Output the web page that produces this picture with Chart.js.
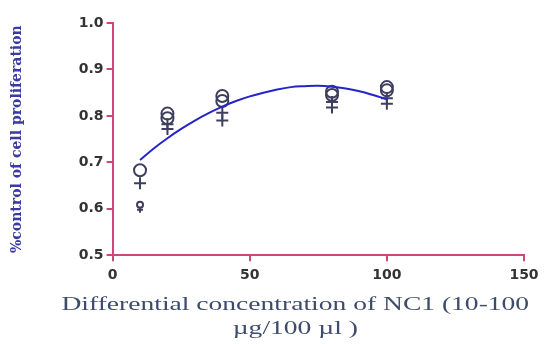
<!DOCTYPE html>
<html>
<head>
<meta charset="utf-8">
<script src="https://cdn.jsdelivr.net/npm/chart.js@4"></script>
<style>
  body { margin: 0; background: #fff; }
  canvas { display: block; }
</style>
</head>
<body>
<canvas id="grafico" width="554" height="344"></canvas>
<script>
// concentracoes (x) e leituras
const concentracoes = [10, 20, 40, 80, 100];
const circulosA = [0.683, 0.805, 0.843, 0.852, 0.862];
const circulosB = [0.609, 0.795, 0.832, 0.845, 0.855];
const cruzesA = [0.655, 0.772, 0.807, 0.830, 0.838];
const cruzesB = [0.598, 0.782, 0.790, 0.818, 0.826];

// curva ajustada
const curvaX = [10, 15, 20, 25, 30, 35, 40, 45, 50, 55, 60, 65, 70, 75, 80, 85, 90, 95, 100];
const curvaY = [0.705, 0.73, 0.752, 0.772, 0.79, 0.806, 0.82, 0.832, 0.842, 0.85, 0.857, 0.862, 0.864, 0.865, 0.863, 0.859, 0.853, 0.845, 0.836];

const ticksX = [0, 50, 100, 150];
const ticksY = [0.5, 0.6, 0.7, 0.8, 0.9, 1.0];

const corEixo = "#d0457a";
const corMarca = "#3e3e5e";

function pontos(xs, ys) {
  return xs.map((x, i) => ({ x: x, y: ys[i] }));
}

// o par de baixo em x=10 e desenhado menor
const raioB = (grande, pequeno) => ctx => (ctx.raw && ctx.raw.y < 0.65 ? pequeno : grande);

// titulo do eixo x esticado na horizontal e um pouco a esquerda, como no original
const esticar = {
  id: "esticar",
  beforeDraw(chart) {
    const escala = chart.scales.x;
    if (escala._esticado) return;
    const original = escala.drawTitle;
    escala.drawTitle = function () {
      const ctx = this.ctx;
      const cx = (this.left + this.right) / 2;
      ctx.save();
      ctx.translate(cx - 23, 0);
      ctx.scale(1.45, 1);
      ctx.translate(-cx, 0);
      original.apply(this, arguments);
      ctx.restore();
    };
    escala._esticado = true;
  }
};

new Chart(document.getElementById("grafico").getContext("2d"), {
  type: "scatter",
  data: {
    datasets: [
      {
        data: pontos(curvaX, curvaY),
        showLine: true,
        borderColor: "#2424c8",
        borderWidth: 2,
        pointRadius: 0,
        tension: 0.4,
        fill: false
      },
      {
        data: pontos(concentracoes, circulosA),
        pointStyle: "circle",
        pointRadius: 6,
        borderColor: corMarca,
        backgroundColor: "rgba(255,255,255,0)",
        borderWidth: 2
      },
      {
        data: pontos(concentracoes, circulosB),
        pointStyle: "circle",
        pointRadius: raioB(6, 3),
        borderColor: corMarca,
        backgroundColor: "rgba(255,255,255,0)",
        borderWidth: 2
      },
      {
        data: pontos(concentracoes, cruzesA),
        pointStyle: "cross",
        pointRadius: 6,
        borderColor: corMarca,
        borderWidth: 2
      },
      {
        data: pontos(concentracoes, cruzesB),
        pointStyle: "cross",
        pointRadius: raioB(6, 3),
        borderColor: corMarca,
        borderWidth: 2
      }
    ]
  },
  options: {
    responsive: false,
    animation: false,
    layout: { padding: { top: 23, right: 30, left: 4, bottom: 3 } },
    plugins: { legend: { display: false }, tooltip: { enabled: false } },
    scales: {
      x: {
        type: "linear",
        min: 0,
        max: 150,
        afterBuildTicks: axis => { axis.ticks = ticksX.map(v => ({ value: v })); },
        border: { color: corEixo, width: 2 },
        grid: { drawOnChartArea: false, color: corEixo, lineWidth: 2, tickLength: 6 },
        ticks: { color: "#333", font: { family: "DejaVu Sans", size: 14, weight: "bold" }, padding: 6 },
        title: {
          display: true,
          text: ["Differential concentration of NC1 (10-100", "µg/100 µl )"],
          color: "#3d4b6c",
          font: { family: "Liberation Serif", size: 19, lineHeight: 1.26 },
          padding: { top: 3, bottom: 0 }
        }
      },
      y: {
        type: "linear",
        min: 0.5,
        max: 1.0,
        afterBuildTicks: axis => { axis.ticks = ticksY.map(v => ({ value: v })); },
        border: { color: corEixo, width: 2 },
        grid: { drawOnChartArea: false, color: corEixo, lineWidth: 2, tickLength: 6 },
        ticks: {
          color: "#333",
          font: { family: "DejaVu Sans", size: 14, weight: "bold" },
          padding: 3,
          callback: v => v.toFixed(1)
        },
        title: {
          display: true,
          text: "%control of cell proliferation",
          color: "#3a3aa0",
          font: { family: "DejaVu Serif", size: 14, weight: "bold" },
          padding: { top: 5, bottom: 50 }
        }
      }
    }
  },
  plugins: [esticar]
});
</script>
</body>
</html>
